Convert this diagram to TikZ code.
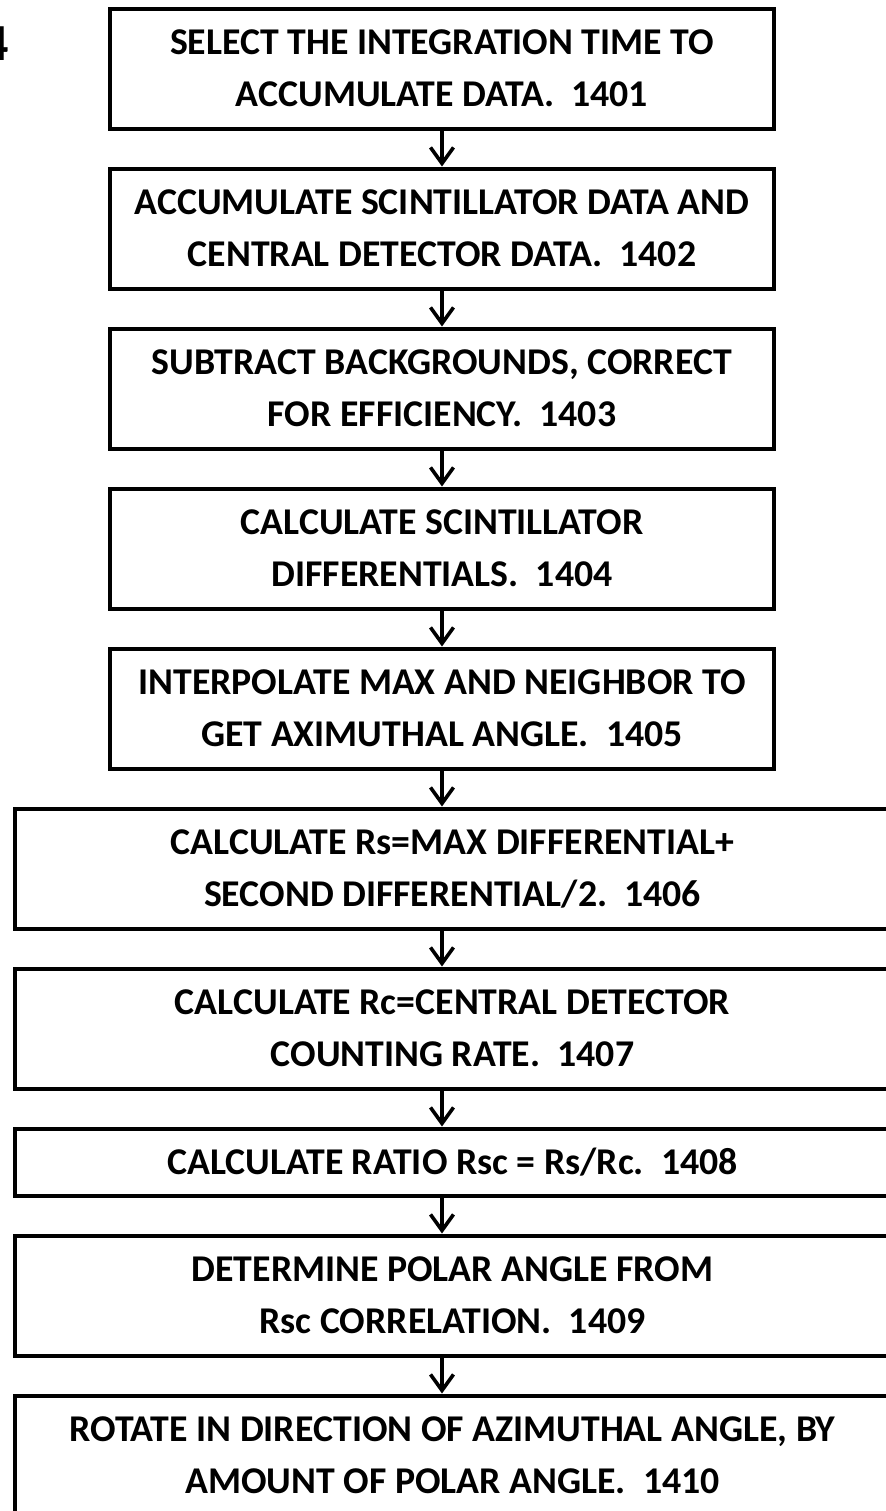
\documentclass[tikz,border=0pt]{standalone}
\usepackage{fontspec}
\setmainfont{Carlito}
\usetikzlibrary{arrows.meta,positioning}
\tikzset{
  stepbox/.style={draw=black, line width=2pt, align=center, fill=white,
    minimum width=332pt, minimum height=60pt, inner sep=3pt,
    font=\bfseries\fontsize{18.9}{26}\selectfont},
  widebox/.style={stepbox, minimum width=437.5pt},
  arr/.style={-{Straight Barb[length=8pt,width=11.5pt]}, line width=1.8pt}
}

\begin{document}
\begin{tikzpicture}[node distance=18pt]
  \useasboundingbox (0,0) rectangle (443pt,-755.5pt);
  \clip (0,0) rectangle (443pt,-755.5pt);

  \node[font=\bfseries\fontsize{26}{30}\selectfont, anchor=base east, inner sep=0pt] (figlabel) at (4.5pt,-30pt) {4};

  \node[stepbox] (n1) at (221pt,-34.25pt) {SELECT THE INTEGRATION TIME TO\\ACCUMULATE DATA.\ \ 1401};
  \node[stepbox, below=of n1] (n2) {ACCUMULATE SCINTILLATOR DATA AND\\CENTRAL DETECTOR DATA.\ \ 1402};
  \node[stepbox, below=of n2] (n3) {SUBTRACT BACKGROUNDS, CORRECT\\FOR EFFICIENCY.\ \ 1403};
  \node[stepbox, below=of n3] (n4) {CALCULATE SCINTILLATOR\\DIFFERENTIALS.\ \ 1404};
  \node[stepbox, below=of n4] (n5) {INTERPOLATE MAX AND NEIGHBOR TO\\GET AXIMUTHAL ANGLE.\ \ 1405};
  \node[widebox, below=of n5, xshift=5.25pt] (n6) {CALCULATE Rs=MAX DIFFERENTIAL+\\SECOND DIFFERENTIAL/2.\ \ 1406};
  \node[widebox, below=of n6] (n7) {CALCULATE Rc=CENTRAL DETECTOR\\COUNTING RATE.\ \ 1407};
  \node[widebox, below=of n7, minimum height=33.5pt] (n8) {CALCULATE RATIO Rsc = Rs/Rc.\ \ 1408};
  \node[widebox, below=of n8] (n9) {DETERMINE POLAR ANGLE FROM\\Rsc CORRELATION.\ \ 1409};
  \node[widebox, below=of n9] (n10) {ROTATE IN DIRECTION OF AZIMUTHAL ANGLE, BY\\AMOUNT OF POLAR ANGLE.\ \ 1410};

  \draw[arr] (n1) -- (n1 |- n2.north);
  \draw[arr] (n2) -- (n2 |- n3.north);
  \draw[arr] (n3) -- (n3 |- n4.north);
  \draw[arr] (n4) -- (n4 |- n5.north);
  \draw[arr] (n5) -- (n5 |- n6.north);
  % lower boxes are wider, keep the arrows in line with the upper ones
  \draw[arr] (n1 |- n6.south) -- (n1 |- n7.north);
  \draw[arr] (n1 |- n7.south) -- (n1 |- n8.north);
  \draw[arr] (n1 |- n8.south) -- (n1 |- n9.north);
  \draw[arr] (n1 |- n9.south) -- (n1 |- n10.north);
\end{tikzpicture}
\end{document}
